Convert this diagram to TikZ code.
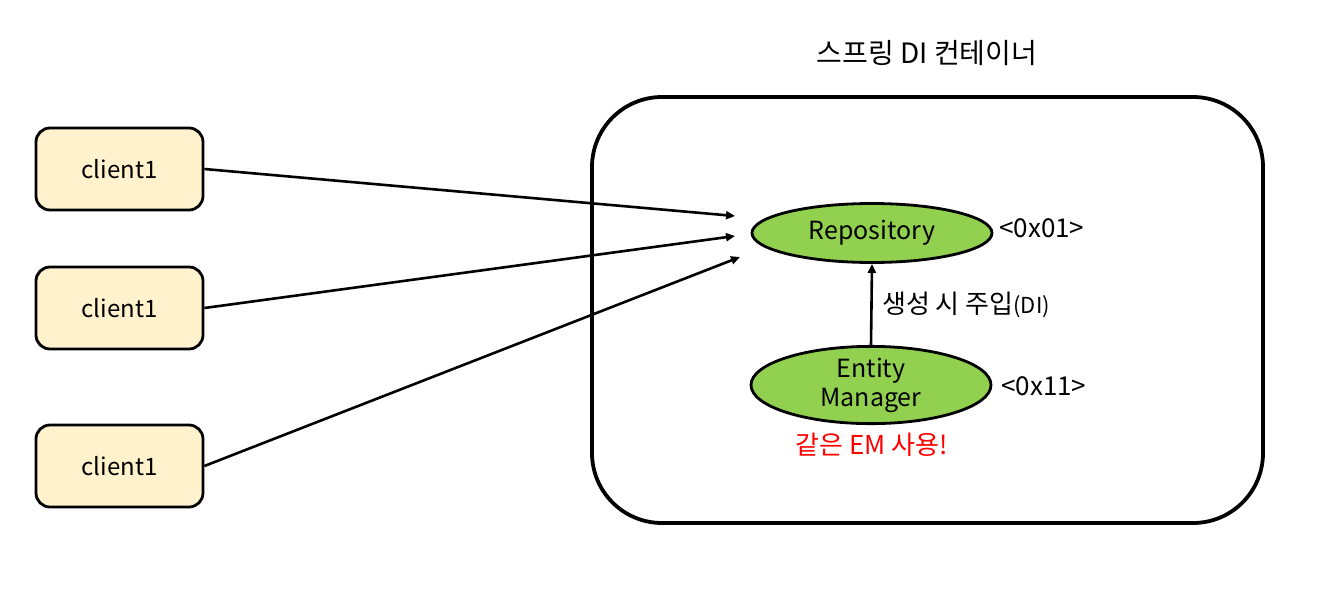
\documentclass[tikz,border=0pt]{standalone}
\usepackage{fontspec}
\setmainfont{Noto Sans CJK KR}
\usetikzlibrary{arrows.meta,shapes.geometric}
\definecolor{clientfill}{HTML}{FFF2CC}
\definecolor{beanfill}{HTML}{92D050}
\begin{document}
\begin{tikzpicture}[x=1pt,y=-1pt,
  clientbox/.style={draw,line width=2.8pt,fill=clientfill,rounded corners=14pt,minimum width=167pt,minimum height=82pt,font=\fontsize{24}{28}\selectfont},
  bean/.style={draw,line width=2.8pt,fill=beanfill,ellipse,minimum width=240pt,minimum height=59pt,inner sep=0pt,font=\fontsize{25}{30}\selectfont,align=center},
  lbl/.style={font=\fontsize{26}{30}\selectfont,inner sep=0pt},
  conn/.style={line width=2.6pt,-{Triangle[length=9pt,width=8pt]}}]
\useasboundingbox (0,0) rectangle (1328,600);
% container
\draw[line width=3.8pt,rounded corners=70pt] (592,97) rectangle (1263,523);
\node[lbl,font=\fontsize{28}{32}\selectfont] (title) at (927,53) {스프링 DI 컨테이너};
% clients
\node[clientbox] (c1) at (119.5,169) {client1};
\node[clientbox] (c2) at (119.5,308) {client1};
\node[clientbox] (c3) at (119.5,466) {client1};
% beans
\node[bean] (repo) at (872,233) {Repository};
\node[bean,minimum height=60pt] (em) at (871,385) {Entity\\[-1pt]Manager};
\node[lbl,anchor=west] (a1) at (999,228) {<0x01>};
\node[lbl,anchor=west] (a2) at (1001,386) {<0x11>};
\node[lbl,anchor=west] (di) at (882,305) {생성 시 주입{\fontsize{22}{24}\selectfont(DI)}};
\node[lbl,text=red] (same) at (872,445) {같은 EM 사용!};
% connectors
\coordinate (t1) at (735,216);
\coordinate (t2) at (735,236);
\coordinate (t3) at (740,257);
\draw[conn] (c1.east) -- (t1);
\draw[conn] (c2.east) -- (t2);
\draw[conn] (c3.east) -- (t3);
\draw[conn] (em.north) -- (repo.south);
\end{tikzpicture}
\end{document}
